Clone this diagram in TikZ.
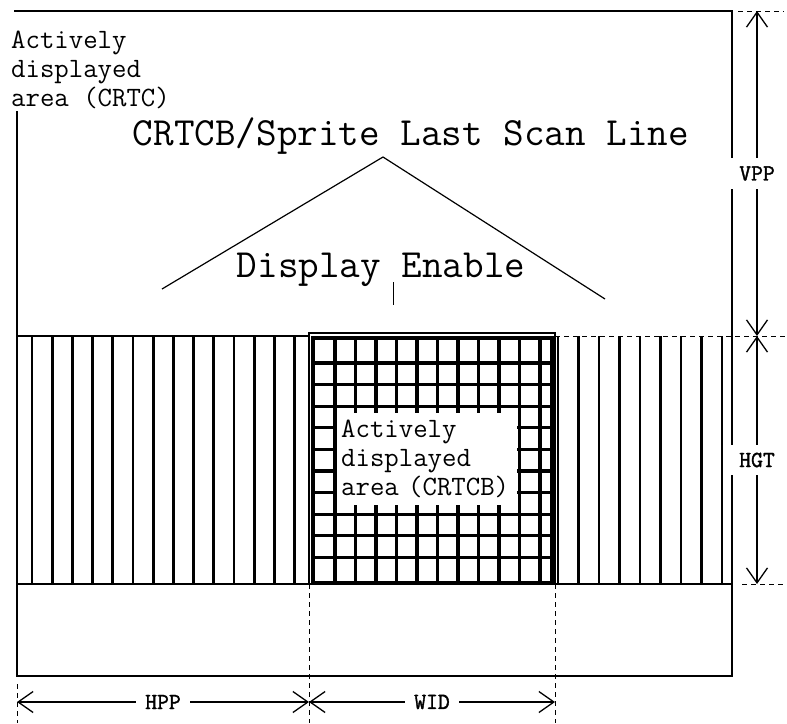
\documentclass[tikz,border=0pt]{standalone}
\usepackage{fontspec}
\newfontfamily\dimfont{Latin Modern Mono}[FakeBold=1.5]
\usetikzlibrary{arrows.meta,positioning,calc}
\begin{document}
\begin{tikzpicture}[x=1pt,y=-1pt,
  outline/.style={line width=1.6pt},
  hatch/.style={line width=2.8pt},
  cell/.style={line width=3.2pt},
  extline/.style={line width=1pt, dash pattern=on 5pt off 4pt},
  dim/.style={{Straight Barb[length=15pt,width=21pt]}-{Straight Barb[length=15pt,width=21pt]}, line width=1.3pt},
  area/.style={font=\fontsize{28}{29}\selectfont\ttfamily, align=left, fill=white, inner sep=2pt},
  title/.style={font=\fontsize{40}{41}\selectfont\ttfamily},
  dimlabel/.style={font=\fontsize{23}{24}\selectfont\dimfont, fill=white, inner xsep=9pt, inner ysep=8pt}
]
\useasboundingbox (0,0) rectangle (787,723);
\def\xL{17} \def\xA{309} \def\xB{555} \def\xR{732}
\def\yT{11} \def\yA{336} \def\yB{584} \def\yE{676} \def\yD{702} \def\xD{757}

\coordinate (tl) at (\xL,\yT);
\coordinate (tr) at (\xR,\yT);
\coordinate (br) at (\xR,\yE);
\coordinate (bl) at (\xL,\yE);

\node[area, anchor=north west] (crtc) at (9,29) {Actively\\displayed\\area (CRTC)};
\draw[outline] (14,\yT) -- (tr) -- (br) -- (bl) -- (tl |- crtc.south);

\draw[outline] (\xL,\yA) -- (\xA,\yA);
\draw[outline] (\xL,\yB) -- (\xR,\yB);
\foreach \x in {32,52.2,...,296} \draw[hatch] (\x,\yA) -- (\x,\yB);
\foreach \x in {558,578.5,...,724} \draw[hatch] (\x,\yA) -- (\x,\yB);

\draw[line width=1.2pt] (\xA,333) rectangle (\xB,\yB);
\draw[cell] (313,338) rectangle (552,583);
\foreach \x in {335,355.5,...,541} \draw[cell] (\x,338) -- (\x,583);
\foreach \y in {363,384.6,...,558} \draw[cell] (313,\y) -- (552,\y);
\node[area, anchor=north west, text width=172pt, inner xsep=4pt, inner ysep=7pt] (crtcb) at (337,413) {Actively\\displayed\\area (CRTCB)};

\node[title, anchor=base] (scan) at (411,145) {CRTCB/Sprite Last Scan Line};
\node[title, anchor=base] (enable) at (381,277) {Display Enable};
\coordinate (apex) at (383,157);
\coordinate (foot1) at (162,289);
\coordinate (foot2) at (605,299);
\draw[line width=1.2pt] (foot1) -- (apex) -- (foot2);
\coordinate (tick1) at (393,282);
\coordinate (tick2) at (393,305);
\draw[line width=1pt] (tick1) -- (tick2);

\draw[extline] (738,\yT) -- (784,\yT);
\draw[extline] (\xB,\yA) -- (787,\yA);
\draw[extline] (742,\yB) -- (785,\yB);
\draw[extline] (\xL,684) -- (\xL,723);
\draw[extline] (\xA,\yB) -- (\xA,723);
\draw[extline] (\xB,\yB) -- (\xB,723);

\coordinate (v1) at (\xD,\yT);
\coordinate (v2) at (\xD,\yA);
\coordinate (v3) at (\xD,\yB);
\draw[dim] (v1) -- node[dimlabel]{VPP} (v2);
\draw[dim] (v2) -- node[dimlabel]{HGT} (v3);

\coordinate (h1) at (\xL,\yD);
\coordinate (h2) at (\xA,\yD);
\coordinate (h3) at (\xB,\yD);
\draw[dim] (h1) -- node[dimlabel]{HPP} (h2);
\draw[dim] (h2) -- node[dimlabel]{WID} (h3);
\end{tikzpicture}
\end{document}
